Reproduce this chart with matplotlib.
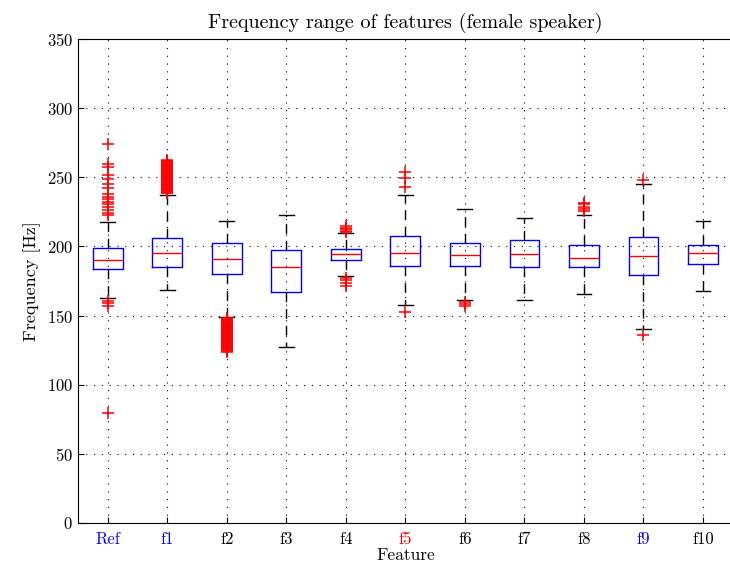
import matplotlib
matplotlib.use("Agg")
import matplotlib.pyplot as plt

plt.rcParams['font.family'] = 'serif'
plt.rcParams['font.serif'] = ['cmr10', 'DejaVu Serif']
plt.rcParams['axes.formatter.use_mathtext'] = True

# feature names and tick colours
features = ['Ref', 'f1', 'f2', 'f3', 'f4', 'f5', 'f6', 'f7', 'f8', 'f9', 'f10']
label_colors = ['blue', 'blue', 'black', 'black', 'black', 'red',
                'black', 'black', 'black', 'blue', 'black']

# box statistics (Hz)
q1 = [183.8, 185.0, 180.4, 167.1, 190.3, 186.0, 185.7, 184.8, 185.5, 179.2, 187.2]
med = [190.0, 195.4, 191.3, 185.3, 194.7, 195.4, 193.7, 194.7, 191.8, 193.0, 195.4]
q3 = [199.0, 206.3, 202.2, 197.3, 198.3, 207.5, 202.7, 205.0, 201.0, 206.5, 201.0]
whislo = [162.8, 168.6, 148.8, 127.3, 178.5, 157.5, 161.1, 161.3, 165.4, 140.6, 168.1]
whishi = [217.6, 237.0, 218.4, 222.5, 209.9, 237.0, 226.8, 220.8, 222.5, 245.4, 218.4]

# outliers (f1 and f2 have so many they merge into a solid block)
fliers = [
    [274, 260, 257.5, 251.7, 248.6, 245, 242.5, 237.7, 236, 234, 232.4, 230.4,
     228.5, 226.3, 224.4, 222.5, 160.4, 159.2, 157.2, 79.7],
    [238.5, 239.0, 239.5, 240.0, 240.5, 241.0, 241.5, 242.0, 242.5, 243.0, 243.5,
     244.0, 244.5, 245.0, 245.5, 246.0, 246.5, 247.0, 247.5, 248.0, 248.5, 249.0,
     249.5, 250.0, 250.5, 251.0, 251.5, 252.0, 252.5, 253.0, 253.5, 254.0, 254.5,
     255.0, 255.5, 256.0, 256.5, 257.0, 257.5, 258.0, 258.5, 259.0, 259.5, 260.0,
     260.5, 261.0, 261.5, 262.0, 262.5],
    [124.0, 124.5, 125.0, 125.5, 126.0, 126.5, 127.0, 127.5, 128.0, 128.5, 129.0,
     129.5, 130.0, 130.5, 131.0, 131.5, 132.0, 132.5, 133.0, 133.5, 134.0, 134.5,
     135.0, 135.5, 136.0, 136.5, 137.0, 137.5, 138.0, 138.5, 139.0, 139.5, 140.0,
     140.5, 141.0, 141.5, 142.0, 142.5, 143.0, 143.5, 144.0, 144.5, 145.0, 145.5,
     146.0, 146.5, 147.0, 147.5, 148.0],
    [],
    [210.5, 211.5, 212.5, 213.5, 214.5, 177.3, 176.0, 173.7, 171.7],
    [254.1, 249.7, 243.2, 152.7],
    [159.7, 158.7, 157.2],
    [],
    [231.6, 230.4, 228.7, 227.3, 225.6],
    [248.1, 136.2],
    [],
]

stats = []
for i in range(len(features)):
    stats.append({'q1': q1[i], 'med': med[i], 'q3': q3[i],
                  'whislo': whislo[i], 'whishi': whishi[i],
                  'fliers': fliers[i], 'label': features[i]})

fig = plt.figure(figsize=(7.3, 5.64), dpi=100)
ax = fig.add_axes([0.1068, 0.0727, 0.897, 0.858])

ax.bxp(stats, positions=range(1, 12), widths=0.5, capwidths=0.25,
       boxprops=dict(color='blue', linewidth=1),
       medianprops=dict(color='red', linewidth=1),
       whiskerprops=dict(color='black', linestyle='--', linewidth=1, dashes=(7, 5)),
       capprops=dict(color='black', linewidth=1),
       flierprops=dict(marker='+', markeredgecolor='red', markersize=8,
                       markeredgewidth=1.1, linestyle='none'))

ax.set_xlim(0.5, 11.5)
ax.set_ylim(0, 350)
ax.set_yticks(range(0, 351, 50))
ax.set_xticks(range(1, 12))
ax.set_xticklabels(features)
for lbl, c in zip(ax.get_xticklabels(), label_colors):
    lbl.set_color(c)

ax.grid(True, color='black', linestyle=(0, (1, 6)), linewidth=0.8)
ax.tick_params(direction='in', labelsize=12, length=4)
ax.tick_params(axis='x', pad=6)
ax.spines['right'].set_visible(False)

ax.set_title('Frequency range of features (female speaker)', fontsize=14.5, pad=8)
ax.set_ylabel('Frequency [Hz]', fontsize=13)
ax.set_xlabel('Feature', fontsize=12.5, labelpad=1)

plt.savefig('out.png', dpi=100)
